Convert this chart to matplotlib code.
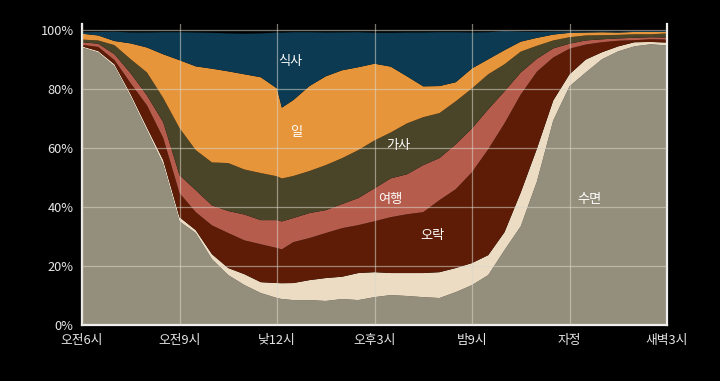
import matplotlib
matplotlib.use("Agg")
import matplotlib.pyplot as plt
import numpy as np

plt.rcParams['font.family'] = ['Noto Sans CJK KR', 'DejaVu Sans']

# hours after 6am (x axis runs 0..18)
hours = [0, 0.5, 1, 1.5, 2, 2.5, 3, 3.5, 4, 4.5, 5, 5.5, 6, 6.15, 6.5, 7, 7.5, 8, 8.5,
         9, 9.5, 10, 10.5, 11, 11.5, 12, 12.5, 13, 13.5, 14, 14.5, 15, 15.5, 16,
         16.5, 17, 17.5, 18]

# share of people (%) doing each activity, bottom to top
sleep = [94.2, 92.5, 87.8, 77.4, 66.0, 54.5, 35.1, 31.1, 22.2, 16.8, 13.4, 10.7, 9.0, 8.65,
         8.3, 8.3, 8.0, 8.65, 8.3, 9.3, 10.0, 9.7, 9.3, 9.0, 11.0, 13.4, 16.8, 25.3, 33.4,
         48.7, 69.4, 81.0, 85.7, 90.2, 92.9, 94.6, 95.3, 94.9]
care = [0.4, 0.5, 0.7, 0.9, 1.0, 1.4, 1.4, 1.0, 1.7, 2.4, 3.7, 3.7, 5.1, 5.4,
        5.8, 6.8, 7.8, 7.6, 9.2, 8.5, 7.5, 7.8, 8.2, 8.8, 8.2, 7.5, 6.8, 6.1, 11.5,
        11.2, 6.8, 4.1, 4.4, 2.4, 1.7, 1.4, 0.8, 1.0]
leisure = [0.5, 1.4, 1.4, 3.7, 7.5, 7.5, 8.2, 6.1, 9.8, 11.9, 11.5, 12.9, 11.9, 11.5,
           13.9, 14.3, 15.3, 16.5, 16.3, 17.3, 19.0, 20.0, 20.7, 24.5, 26.8, 30.9, 36.0,
           37.0, 33.3, 26.1, 14.6, 8.7, 5.1, 3.4, 1.9, 0.7, 0.9, 1.0]
travel = [0.9, 1.1, 2.0, 3.4, 3.4, 5.4, 6.1, 7.5, 6.8, 7.5, 8.8, 8.2, 9.5, 9.5,
          8.2, 8.5, 7.8, 8.2, 9.2, 11.2, 13.2, 13.6, 16.0, 14.3, 15.3, 14.9, 13.6, 10.9,
          7.5, 4.4, 3.1, 1.7, 1.4, 1.0, 0.8, 0.8, 0.7, 0.7]
housework = [0.9, 1.1, 3.1, 4.8, 7.8, 8.2, 16.0, 13.6, 14.6, 16.3, 15.3, 16.0, 14.9, 14.6,
             14.3, 14.3, 15.3, 15.6, 16.3, 16.3, 15.6, 17.3, 16.3, 15.3, 14.6, 13.6, 11.9,
             9.2, 7.1, 4.4, 2.7, 2.2, 1.7, 1.4, 1.2, 1.2, 1.0, 1.4]
work = [2.0, 1.7, 1.4, 5.4, 8.5, 14.9, 23.1, 28.5, 31.9, 31.2, 32.4, 32.6, 29.9, 24.1,
        25.8, 28.9, 30.2, 29.9, 28.2, 26.1, 22.4, 16.0, 10.5, 9.2, 6.5, 6.8, 5.1, 4.8,
        3.4, 2.7, 2.0, 1.5, 1.0, 1.0, 0.8, 0.8, 0.8, 0.5]
meals = [0.5, 1.2, 3.2, 3.7, 5.1, 7.5, 9.5, 11.5, 12.2, 12.9, 13.8, 14.9, 19.0, 25.5,
         23.1, 18.3, 14.9, 12.9, 11.9, 10.5, 11.5, 14.9, 18.3, 18.3, 17.0, 12.2, 9.2,
         6.5, 3.4, 2.0, 1.0, 0.5, 0.3, 0.3, 0.3, 0.3, 0.3, 0.3]

colors = ['#948f7c', '#ecdcc4', '#5e1c06', '#b65c4c', '#4a4428', '#e6953a', '#0b3a52']

tick_pos = [0, 3, 6, 9, 12, 15, 18]
tick_labels = ['오전6시', '오전9시', '낮12시', '오후3시', '밤9시', '자정', '새벽3시']

# area labels: (text, hour, pct)
area_labels = [('식사', 6.4, 89.5), ('일', 6.58, 65.2), ('가사', 9.75, 60.8),
               ('여행', 9.48, 42.4), ('오락', 10.77, 30.2), ('수면', 15.6, 42.4)]

fig = plt.figure(figsize=(7.2, 3.81), dpi=100, facecolor='black')
ax = fig.add_axes([82/720, 1 - 324.5/381, 585/720, 300.5/381])
ax.set_facecolor('black')

ax.stackplot(hours, sleep, care, leisure, travel, housework, work, meals,
             colors=colors, linewidth=0)

ax.set_xlim(0, 18)
ax.set_ylim(0, 102.2)
ax.set_xticks(tick_pos)
ax.set_xticklabels(tick_labels)
ax.set_yticks([0, 20, 40, 60, 80, 100])
ax.set_yticklabels(['0%', '20%', '40%', '60%', '80%', '100%'])
ax.tick_params(length=0, colors='#e6e6e6', labelsize=9.2, pad=6)
ax.tick_params(axis='x', pad=7)

ax.set_axisbelow(False)
ax.grid(True, color='#dcd8cc', linewidth=0.9, alpha=0.55)

for side in ['left', 'bottom', 'right']:
    ax.spines[side].set_color('#f0f0f0')
    ax.spines[side].set_linewidth(1.6)
ax.spines['top'].set_visible(False)

for txt, hx, py in area_labels:
    ax.text(hx, py, txt, color='white', fontsize=9.5, ha='center', va='center', zorder=5)

plt.savefig('out.png', dpi=100, facecolor='black')
